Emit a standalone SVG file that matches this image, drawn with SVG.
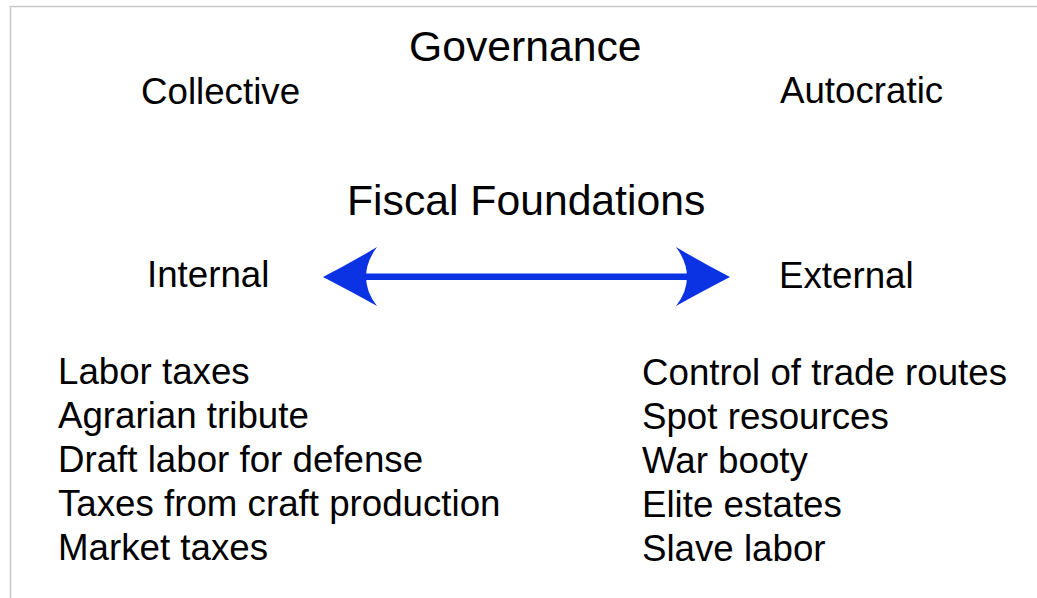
<svg xmlns="http://www.w3.org/2000/svg" width="1037" height="598" viewBox="0 0 1037 598">
<style>
text{font-family:"Liberation Sans",Arial,sans-serif;fill:#000}
.h{font-size:42.7px}
.m{font-size:36.7px}
.frame{stroke:#c8c8c8;stroke-width:1.5;fill:none}
.arrow{fill:#0b33e3}
</style>
<rect width="1037" height="598" fill="#fff"/>
<path class="frame" d="M10.5,598 V6.5 H1037"/>
<g id="governance"><text class="h" x="409" y="61">Governance</text></g>
<g id="collective"><text class="m" x="141" y="104">Collective</text></g>
<g id="autocratic"><text class="m" x="780" y="103">Autocratic</text></g>
<g id="fiscal"><text class="h" x="347" y="215">Fiscal Foundations</text></g>
<g id="internal"><text class="m" x="147" y="287">Internal</text></g>
<g id="external"><text class="m" x="779" y="288">External</text></g>
<g id="internal-list">
<text class="m" x="58" y="384">Labor taxes</text>
<text class="m" x="58" y="428">Agrarian tribute</text>
<text class="m" x="58" y="472">Draft labor for defense</text>
<text class="m" x="58" y="516">Taxes from craft production</text>
<text class="m" x="58" y="560">Market taxes</text>
</g>
<g id="external-list">
<text class="m" x="642" y="385">Control of trade routes</text>
<text class="m" x="642" y="429">Spot resources</text>
<text class="m" x="642" y="473">War booty</text>
<text class="m" x="642" y="517">Elite estates</text>
<text class="m" x="642" y="561">Slave labor</text>
</g>
<g id="connectors">
<rect class="arrow" x="362" y="273.5" width="330" height="6.5"/>
<path class="arrow" d="M323,277 Q352,262 377,247 Q366,262 366,277 Q366,292 377,306 Q352,292 323,277 Z"/>
<path class="arrow" d="M730,277 Q701,262 676,247 Q687,262 687,277 Q687,292 676,306 Q701,292 730,277 Z"/>
</g>
</svg>
